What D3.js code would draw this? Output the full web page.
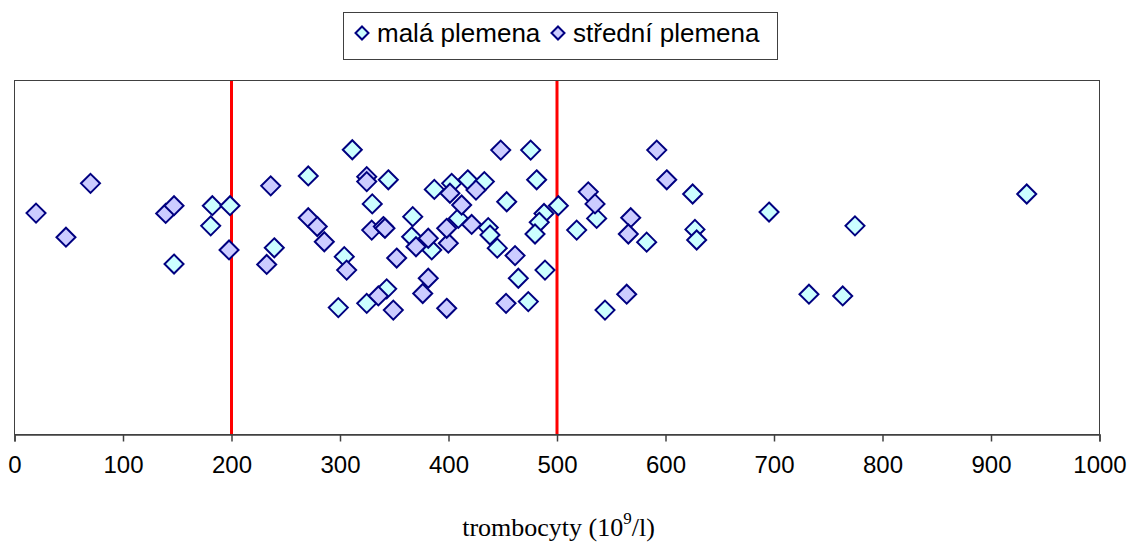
<!DOCTYPE html>
<html>
<head>
<meta charset="utf-8">
<script src="https://cdn.jsdelivr.net/npm/d3@7"></script>
<style>
  html, body { margin: 0; padding: 0; background: #fff; }
  svg { display: block; }
</style>
</head>
<body>
<svg id="chart" width="1131" height="543"></svg>
<script>
// ---- data ----
const seriesNames = ["malá plemena", "střední plemena"];
const malaX = [147.5, 182.8, 199.1, 181.3, 239.9, 271.2, 311.8, 345.0, 330.2, 304.4, 343.5, 325.1, 298.9,
  387.4, 403.4, 418.2, 433.5, 367.5, 409.5, 437.1, 438.7, 445.4, 366.5, 385.0, 476.2, 481.7, 454.1,
  501.7, 488.5, 484.1, 480.2, 464.8, 489.4, 474.0, 537.0, 518.6, 544.7, 625.5, 583.1, 627.6, 629.2,
  695.9, 775.1, 933.4, 732.7, 763.8];
const malaY = [48.0, 64.5, 64.5, 58.8, 52.6, 72.9, 80.3, 71.8, 65.0, 50.1, 41.0, 36.9, 35.7,
  69.1, 70.8, 71.8, 71.3, 61.4, 60.9, 58.3, 56.2, 52.5, 55.7, 52.0, 80.2, 71.8, 65.6,
  64.5, 62.3, 59.8, 56.5, 44.0, 46.3, 37.4, 60.9, 57.6, 35.0, 67.8, 54.2, 57.8, 54.8,
  62.7, 58.8, 67.8, 39.5, 39.0];
const stredniX = [20.3, 47.9, 70.5, 139.8, 147.5, 198.2, 236.6, 232.9, 271.2, 279.5, 286.0, 306.6,
  325.1, 325.1, 329.7, 340.4, 341.9, 352.7, 335.8, 349.6, 370.5, 381.8, 400.3, 398.8, 401.8, 425.8,
  412.6, 421.8, 381.8, 376.7, 398.8, 448.6, 461.8, 453.5, 529.3, 535.5, 568.4, 566.2, 564.7, 592.4, 601.6];
const stredniY = [62.4, 55.6, 70.8, 62.3, 64.5, 52.0, 70.1, 47.9, 61.1, 58.6, 54.3, 46.3,
  72.7, 71.3, 57.6, 58.6, 58.1, 49.7, 39.0, 35.0, 52.9, 55.3, 53.9, 58.1, 68.0, 68.9,
  64.7, 59.2, 44.0, 39.7, 35.5, 80.2, 50.4, 36.9, 68.4, 65.0, 61.1, 56.5, 39.5, 80.2, 71.8];
const xTicks = [0, 100, 200, 300, 400, 500, 600, 700, 800, 900, 1000];
const refLines = [200, 500];
const xDomain = [0, 1000];
const yDomain = [0, 100];
const axisTitle = "trombocyty (10";
const axisTitleSup = "9";
const axisTitleEnd = "/l)";

// ---- layout ----
const svg = d3.select("#chart");
const plot = { left: 14, right: 1099, top: 80, bottom: 434 };
const fills = ["#CCFFFF", "#CCCCFF"];
const stroke = "#000080";

const x = d3.scaleLinear().domain(xDomain).range([plot.left, plot.right]);
const y = d3.scaleLinear().domain(yDomain).range([plot.bottom, plot.top]);

function diamond(r) { return `M0,${-r}L${r},0L0,${r}L${-r},0Z`; }

// plot frame
svg.append("rect")
  .attr("x", plot.left + 0.5).attr("y", plot.top + 0.5)
  .attr("width", plot.right - plot.left).attr("height", plot.bottom - plot.top)
  .attr("fill", "#fff").attr("stroke", "#404040").attr("stroke-width", 1);

// reference lines
svg.selectAll("line.ref").data(refLines).enter().append("line")
  .attr("class", "ref")
  .attr("x1", d => x(d) + 0.5).attr("x2", d => x(d) + 0.5)
  .attr("y1", plot.top + 1).attr("y2", plot.bottom)
  .attr("stroke", "#FF0000").attr("stroke-width", 3);

// points
const series = [
  malaX.map((v, i) => ({ x: v, y: malaY[i] })),
  stredniX.map((v, i) => ({ x: v, y: stredniY[i] }))
];
series.forEach((pts, si) => {
  svg.append("g").selectAll("path").data(pts).enter().append("path")
    .attr("d", diamond(9.5))
    .attr("transform", d => `translate(${x(d.x)},${y(d.y)})`)
    .attr("fill", fills[si]).attr("stroke", stroke).attr("stroke-width", 2);
});

// x axis
const axis = d3.axisBottom(x).tickValues(xTicks).tickSize(7).tickPadding(14).tickFormat(d3.format("d"));
const gx = svg.append("g").attr("transform", `translate(0.5,${plot.bottom + 0.5})`).call(axis);
gx.select(".domain").attr("stroke", "#404040").attr("stroke-width", 1.5);
gx.selectAll(".tick line").attr("stroke", "#404040").attr("stroke-width", 1.5);
gx.selectAll(".tick text")
  .attr("font-family", "Liberation Sans, Arial, sans-serif")
  .attr("font-size", 24).attr("fill", "#000");

// axis title
const t = svg.append("text")
  .attr("x", (plot.left + plot.right) / 2 + 2).attr("y", 536)
  .attr("text-anchor", "middle")
  .attr("font-family", "Liberation Serif, Times New Roman, serif")
  .attr("font-size", 26).attr("fill", "#000");
t.append("tspan").text(axisTitle);
t.append("tspan").attr("font-size", 17).attr("dy", -12).text(axisTitleSup);
t.append("tspan").attr("dy", 12).text(axisTitleEnd);

// legend
const lg = svg.append("g");
lg.append("rect").attr("x", 343.5).attr("y", 12.5).attr("width", 434).attr("height", 47)
  .attr("fill", "#fff").attr("stroke", "#404040").attr("stroke-width", 1);
const legendItems = [
  { name: seriesNames[0], fill: fills[0], mx: 362, tx: 377 },
  { name: seriesNames[1], fill: fills[1], mx: 558, tx: 573 }
];
legendItems.forEach(it => {
  lg.append("path").attr("d", diamond(6.5))
    .attr("transform", `translate(${it.mx},33)`)
    .attr("fill", it.fill).attr("stroke", stroke).attr("stroke-width", 2);
  lg.append("text").attr("x", it.tx).attr("y", 42)
    .attr("font-family", "Liberation Sans, Arial, sans-serif")
    .attr("font-size", 26).attr("fill", "#000").text(it.name);
});
</script>
</body>
</html>
